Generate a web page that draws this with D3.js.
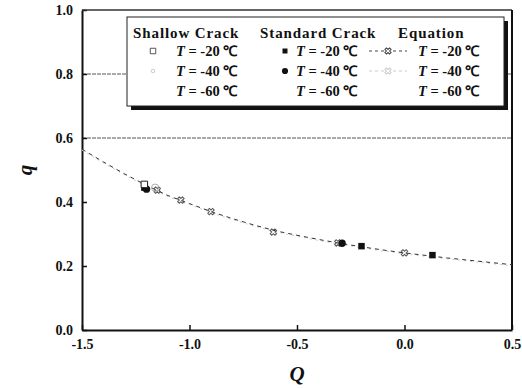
<!DOCTYPE html>
<html><head><meta charset="utf-8">
<script src="https://cdn.jsdelivr.net/npm/d3@7"></script>
<style>
body{margin:0;background:#fff;}
svg text{font-family:"Liberation Serif","Times New Roman",serif;font-weight:bold;fill:#111;}
</style></head>
<body><svg id="c" width="522" height="388"></svg>
<script>
// Axis ticks
const xTicks = [-1.5, -1.0, -0.5, 0.0, 0.5];
const yTicks = [0.0, 0.2, 0.4, 0.6, 0.8, 1.0];
const gridLevels = [0.6, 0.8];

// Equation curve (q versus Q)
const eqQ = [-1.5,-1.4,-1.3,-1.2,-1.1,-1.0,-0.9,-0.8,-0.7,-0.6,-0.5,-0.4,-0.3,-0.2,-0.1,0.0,0.1,0.2,0.3,0.4,0.5];
const eqq = [0.565,0.525,0.487,0.452,0.420,0.395,0.370,0.348,0.328,0.310,0.296,0.283,0.271,0.260,0.250,0.241,0.233,0.225,0.218,0.211,0.204];
// Markers placed on the equation curve
const eqMarkQ = [-1.15,-1.04,-0.90,-0.61,-0.31,0.0];
const eqMarkq = [0.437,0.406,0.370,0.306,0.272,0.241];

// Shallow crack tests
const shallow20Q = [-1.21], shallow20q = [0.455];
const shallow40Q = [-1.16], shallow40q = [0.445];
// Standard crack tests
const standard20Q = [-1.21,-0.20,0.13], standard20q = [0.445,0.262,0.234];
const standard40Q = [-1.20,-0.29], standard40q = [0.440,0.271];

const svg = d3.select("#c");
const m = {l:82, r:10, t:10, b:58};
const W = 522, H = 388;
const x = d3.scaleLinear().domain([-1.5,0.5]).range([m.l, W-m.r]);
const y = d3.scaleLinear().domain([0,1]).range([H-m.b, m.t]);
const fmt = d => d3.format(".1f")(d).replace("\u2212","-");

// grid lines
svg.selectAll("line.grid").data(gridLevels).join("line")
  .attr("x1", x(-1.5)).attr("x2", x(0.5))
  .attr("y1", d=>y(d)).attr("y2", d=>y(d))
  .attr("stroke","#555").attr("stroke-width",1).attr("stroke-dasharray","4,1");

// axes
const xa = svg.append("g").attr("transform",`translate(0,${y(0)})`)
  .call(d3.axisBottom(x).tickValues(xTicks).tickFormat(fmt).tickSizeInner(-5).tickSizeOuter(0).tickPadding(9));
const ya = svg.append("g").attr("transform",`translate(${x(-1.5)},0)`)
  .call(d3.axisLeft(y).tickValues(yTicks).tickFormat(fmt).tickSizeInner(-5).tickSizeOuter(0).tickPadding(9));
[xa, ya].forEach(g=>{
  g.attr("font-family", null).attr("font-size", null);
  g.select(".domain").attr("stroke","#111").attr("stroke-width",2);
  g.selectAll(".tick line").attr("stroke","#111").attr("stroke-width",1.5);
  g.selectAll(".tick text").style("font-size","14px").attr("fill","#111");
});
// frame top and right
svg.append("line").attr("x1",x(-1.5)).attr("x2",x(0.5)).attr("y1",y(1)).attr("y2",y(1)).attr("stroke","#333").attr("stroke-width",1.5);
svg.append("line").attr("x1",x(0.5)).attr("x2",x(0.5)).attr("y1",y(1)).attr("y2",y(0)).attr("stroke","#111").attr("stroke-width",2);

// axis titles
svg.append("text").attr("x", (x(-1.5)+x(0.5))/2).attr("y", 381).attr("text-anchor","middle")
  .style("font-size","21px").style("font-style","italic").text("Q");
svg.append("text").attr("transform",`translate(32,${y(0.5)}) rotate(-90)`).attr("text-anchor","middle")
  .style("font-size","21px").style("font-style","italic").text("q");

// equation curves
const line = d3.line().x(d=>x(d[0])).y(d=>y(d[1]));
const eqPts = eqQ.map((q,i)=>[q, eqq[i]]);
svg.append("path").datum(eqPts).attr("d",line).attr("fill","none")
  .attr("stroke","#ccc").attr("stroke-width",1).attr("stroke-dasharray","2,4").attr("transform","translate(0,1)");
svg.append("path").datum(eqPts).attr("d",line).attr("fill","none")
  .attr("stroke","#333").attr("stroke-width",1).attr("stroke-dasharray","4,4");

svg.selectAll("path.eqm").data(eqMarkQ.map((q,i)=>[q,eqMarkq[i]])).join("path")
  .attr("transform",d=>`translate(${x(d[0])},${y(d[1])}) rotate(45)`)
  .attr("d", d3.symbol().type(d3.symbolCross).size(26))
  .attr("fill","none").attr("stroke","#555").attr("stroke-width",1);

// test data
const pts = (qs, vs) => qs.map((q,i)=>[q, vs[i]]);
svg.selectAll("path.s40").data(pts(shallow40Q,shallow40q)).join("path")
  .attr("transform",d=>`translate(${x(d[0])},${y(d[1])})`)
  .attr("d", d3.symbol().type(d3.symbolCircle).size(40))
  .attr("fill","none").attr("stroke","#aaa");
svg.selectAll("path.st20").data(pts(standard20Q,standard20q)).join("path")
  .attr("transform",d=>`translate(${x(d[0])},${y(d[1])})`)
  .attr("d", d3.symbol().type(d3.symbolSquare).size(42))
  .attr("fill","#111");
svg.selectAll("path.st40").data(pts(standard40Q,standard40q)).join("path")
  .attr("transform",d=>`translate(${x(d[0])},${y(d[1])})`)
  .attr("d", d3.symbol().type(d3.symbolCircle).size(42))
  .attr("fill","#111");
svg.selectAll("path.s20").data(pts(shallow20Q,shallow20q)).join("path")
  .attr("transform",d=>`translate(${x(d[0])},${y(d[1])})`)
  .attr("d", d3.symbol().type(d3.symbolSquare).size(42))
  .attr("fill","#fff").attr("stroke","#222");

// legend
const lg = svg.append("g");
const L = {x0:127, y0:17, x1:504, y1:106};
lg.append("rect").attr("x",L.x0+4).attr("y",L.y0+4).attr("width",L.x1-L.x0).attr("height",L.y1-L.y0).attr("fill","#111");
lg.append("rect").attr("x",L.x0).attr("y",L.y0).attr("width",L.x1-L.x0).attr("height",L.y1-L.y0).attr("fill","#fff").attr("stroke","#222").attr("stroke-width",1);

const headers = [["Shallow Crack",133],["Standard Crack",260],["Equation",398]];
headers.forEach(h=>lg.append("text").attr("x",h[1]).attr("y",38).style("font-size","15px").style("letter-spacing","0.9px").text(h[0]));
const temps = ["-20","-40","-60"];
const rowY = [56, 76, 96];
const textX = [176, 296, 418];
textX.forEach(tx=>{
  temps.forEach((t,i)=>{
    const tt = lg.append("text").attr("x",tx).attr("y",rowY[i]).style("font-size","14.5px");
    tt.append("tspan").style("font-style","italic").text("T");
    tt.append("tspan").text(" = " + t + " \u2103");
  });
});
// legend symbols
lg.append("path").attr("transform",`translate(153,${rowY[0]-5})`).attr("d",d3.symbol().type(d3.symbolSquare).size(30)).attr("fill","#fff").attr("stroke","#555");
lg.append("path").attr("transform",`translate(153,${rowY[1]-5})`).attr("d",d3.symbol().type(d3.symbolCircle).size(10)).attr("fill","none").attr("stroke","#ccc");
lg.append("path").attr("transform",`translate(285,${rowY[0]-5})`).attr("d",d3.symbol().type(d3.symbolSquare).size(25)).attr("fill","#111");
lg.append("path").attr("transform",`translate(285,${rowY[1]-5})`).attr("d",d3.symbol().type(d3.symbolCircle).size(30)).attr("fill","#111");
lg.append("line").attr("x1",369).attr("x2",407).attr("y1",rowY[0]-5).attr("y2",rowY[0]-5).attr("stroke","#444").attr("stroke-dasharray","3,3");
lg.append("path").attr("transform",`translate(388,${rowY[0]-5}) rotate(45)`).attr("d",d3.symbol().type(d3.symbolCross).size(25)).attr("fill","#fff").attr("stroke","#444");
lg.append("line").attr("x1",369).attr("x2",407).attr("y1",rowY[1]-5).attr("y2",rowY[1]-5).attr("stroke","#ccc").attr("stroke-dasharray","3,3");
lg.append("path").attr("transform",`translate(388,${rowY[1]-5}) rotate(45)`).attr("d",d3.symbol().type(d3.symbolCross).size(25)).attr("fill","#fff").attr("stroke","#ccc");
</script></body></html>
